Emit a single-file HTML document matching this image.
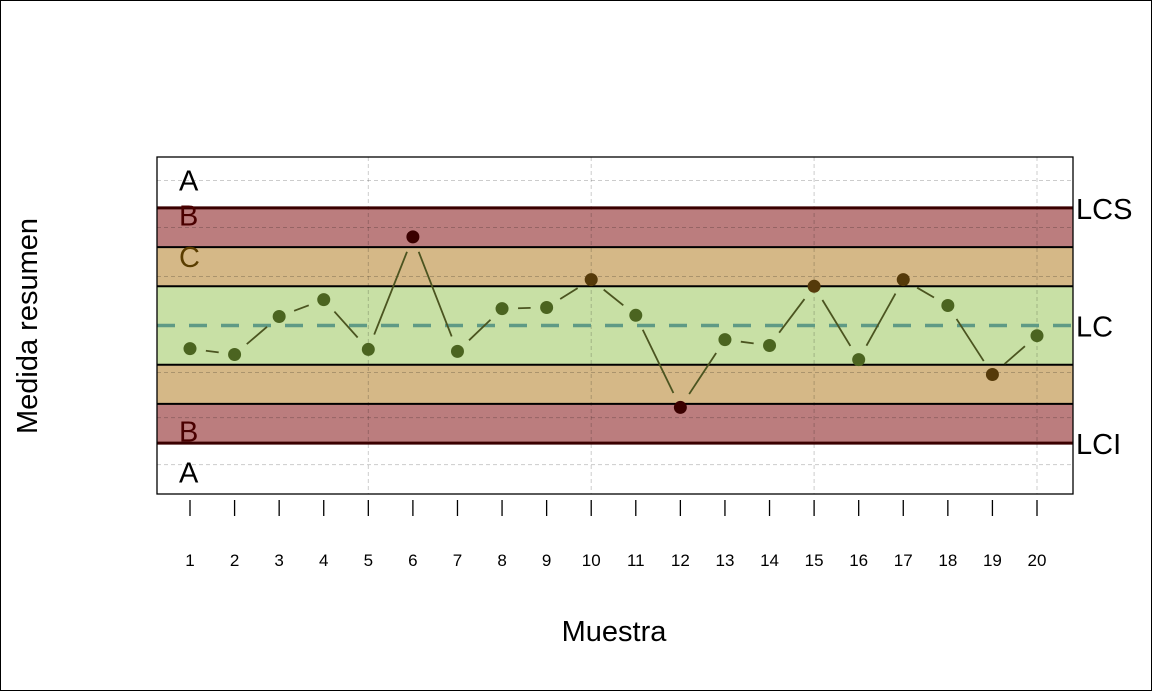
<!DOCTYPE html>
<html><head><meta charset="utf-8"><style>
body{margin:0;background:#fff}
svg{display:block;font-family:"Liberation Sans",Arial,sans-serif}
</style></head><body>
<svg id="c" width="1152" height="691">
<rect x="0.5" y="0.5" width="1151" height="690" fill="#fff" stroke="#000"/>
</svg>
<script>
const samples=[1,2,3,4,5,6,7,8,9,10,11,12,13,14,15,16,17,18,19,20];
const values=[-0.59,-0.74,0.23,0.66,-0.61,2.26,-0.66,0.43,0.46,1.17,0.26,-2.09,-0.36,-0.51,1.0,-0.87,1.17,0.51,-1.25,-0.26];
const xTicks=[1,2,3,4,5,6,7,8,9,10,11,12,13,14,15,16,17,18,19,20];
const gridX=[5,10,15,20];
const gridY=[-3.55,-2.35,-1.2,1.25,2.5,3.7];
const NS='http://www.w3.org/2000/svg';
const svg=document.getElementById('c');
const L=157,R=1073,T=157,B=494;
const x=v=>190+(v-1)*(1037-190)/19;
const y=v=>325.5-v*39.2;
function mk(t,a,p){const e=document.createElementNS(NS,t);for(const k in a)e.setAttribute(k,a[k]);(p||svg).appendChild(e);return e;}
mk('rect',{x:L,y:T,width:R-L,height:B-T,fill:'#fff'});
const bands=[[3,2,'#bb7d7e'],[2,1,'#d5b887'],[1,-1,'#c8e0a5'],[-1,-2,'#d5b887'],[-2,-3,'#bb7d7e']];
bands.forEach(b=>{const r=mk('rect',{x:L,y:y(b[0]),width:R-L,height:y(b[1])-y(b[0]),fill:b[2]});

});
gridY.forEach(g=>{const l=mk('line',{x1:L,x2:R,y1:y(g),y2:y(g),stroke:'#000','stroke-opacity':0.2,'stroke-dasharray':'4,3'});

});
gridX.forEach(g=>{const l=mk('line',{x1:x(g),x2:x(g),y1:T,y2:B,stroke:'#000','stroke-opacity':0.2,'stroke-dasharray':'4,3'});

});
[2,1,-1,-2].forEach(v=>{const l=mk('line',{x1:L,x2:R,y1:y(v),y2:y(v),stroke:'#000','stroke-width':2});

});
[3,-3].forEach(v=>{const l=mk('line',{x1:L,x2:R,y1:y(v),y2:y(v),stroke:'#3a0000','stroke-width':3});

});
const cl=mk('line',{x1:L,x2:R,y1:y(0),y2:y(0),stroke:'#5f9a85','stroke-width':3.5,'stroke-dasharray':'18,14'});


[['A',3.7,'#000'],['B',2.8,'#4a0000'],['C',1.75,'#5a3d00'],['B',-2.7,'#4a0000'],['A',-3.75,'#000']].forEach(z=>{
const t=mk('text',{x:179,y:y(z[1])+10,'font-size':29,fill:z[2]});t.textContent=z[0];

});
for(let i=0;i<values.length-1;i++){
 const x1=x(samples[i]),y1=y(values[i]),x2=x(samples[i+1]),y2=y(values[i+1]);
 const d=Math.hypot(x2-x1,y2-y1),g=16;
 if(d<=2*g)continue;
 const ux=(x2-x1)/d,uy=(y2-y1)/d;
 const s=mk('line',{x1:x1+ux*g,y1:y1+uy*g,x2:x2-ux*g,y2:y2-uy*g,stroke:'#4b5420','stroke-width':1.8});
 
 
}
values.forEach((v,i)=>{const a=Math.abs(v);const col=a>=2?'#3a0000':a>=1?'#553a0a':'#4b6420';
const c=mk('circle',{cx:x(samples[i]),cy:y(v),r:6.5,fill:col});

});
const box=mk('rect',{x:L,y:T,width:R-L,height:B-T,fill:'none',stroke:'#000','stroke-width':1.3});


xTicks.forEach(t=>{const l=mk('line',{x1:x(t),x2:x(t),y1:500,y2:516,stroke:'#000','stroke-width':1.3});


const tx=mk('text',{x:x(t),y:566,'font-size':17,'text-anchor':'middle'});tx.textContent=t;

});
[['LCS',3],['LC',0],['LCI',-3]].forEach(p=>{const t=mk('text',{x:1076,y:y(p[1])+11,'font-size':29});t.textContent=p[0];

});
const xl=mk('text',{x:614,y:641,'font-size':29,'text-anchor':'middle'});xl.textContent='Muestra';


const yl=mk('text',{x:0,y:0,'font-size':29,'text-anchor':'middle',transform:'translate(37,326) rotate(-90)'});yl.textContent='Medida resumen';


</script>
</body></html>
